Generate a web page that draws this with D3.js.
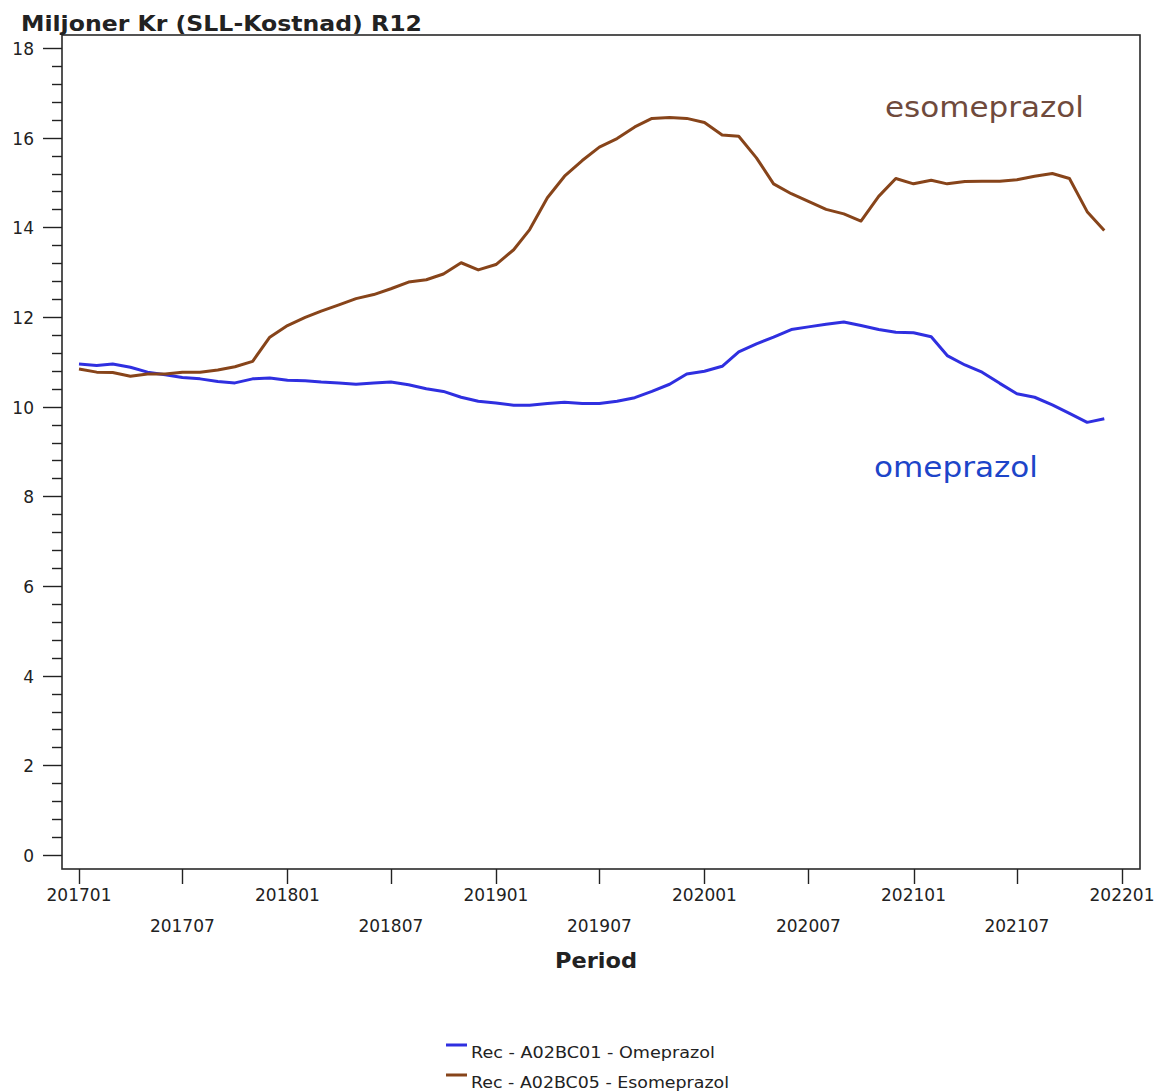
<!DOCTYPE html>
<html lang="sv">
<head>
    <meta charset="UTF-8">
    <script src="https://cdn.jsdelivr.net/npm/d3@7"></script>
    <title>Miljoner Kr (SLL-Kostnad) R12</title>
    <style>
        body {
            margin: 0;
            background: #ffffff;
        }
        text {
            font-family: "DejaVu Sans", Verdana, sans-serif;
            fill: #222;
        }
    </style>
</head>
<body>
    <div id="chart"></div>

    <script>
        // chart data, monthly from 201701 to 202112 (R12 cost, millions SEK)
        const startMonth = new Date(2017, 0, 1);
        const endMonth = new Date(2022, 0, 1);

        const omeprazol = [
            10.95, 10.92, 10.95, 10.88, 10.77, 10.71, 10.65, 10.62, 10.56, 10.53,
            10.62, 10.64, 10.59, 10.58, 10.55, 10.53, 10.50, 10.53, 10.55, 10.49,
            10.40, 10.34, 10.21, 10.12, 10.08, 10.03, 10.03, 10.07, 10.10, 10.07,
            10.07, 10.12, 10.20, 10.34, 10.50, 10.73, 10.79, 10.90, 11.22, 11.40,
            11.55, 11.72, 11.78, 11.84, 11.89, 11.81, 11.72, 11.66, 11.65, 11.56,
            11.14, 10.93, 10.77, 10.52, 10.29, 10.21, 10.04, 9.85, 9.65, 9.73
        ];

        const esomeprazol = [
            10.84, 10.77, 10.76, 10.68, 10.73, 10.73, 10.77, 10.77, 10.82, 10.89,
            11.01, 11.55, 11.81, 11.99, 12.13, 12.27, 12.41, 12.50, 12.63, 12.78,
            12.83, 12.96, 13.21, 13.05, 13.17, 13.50, 13.95, 14.66, 15.14, 15.49,
            15.79, 15.98, 16.24, 16.43, 16.45, 16.43, 16.34, 16.06, 16.03, 15.55,
            14.97, 14.75, 14.58, 14.40, 14.30, 14.14, 14.69, 15.09, 14.97, 15.05,
            14.97, 15.02, 15.03, 15.03, 15.06, 15.14, 15.20, 15.09, 14.35, 13.93
        ];

        const xTickLabels = ["201701", "201707", "201801", "201807", "201901", "201907",
            "202001", "202007", "202101", "202107", "202201"];
        const yTickValues = [0, 2, 4, 6, 8, 10, 12, 14, 16, 18];

        const seriesNames = ["Rec  - A02BC01 - Omeprazol", "Rec  - A02BC05 - Esomeprazol"];
        const seriesColors = ["#2f2fe0", "#87441a"];

        const width = 1157;
        const height = 1091;

        const svg = d3.select("#chart").append("svg")
            .attr("width", width)
            .attr("height", height);

        // frame edges (axes are offset from the data area)
        const frame = { left: 62, right: 1140, top: 35, bottom: 869 };

        const months = d3.timeMonth.range(startMonth, endMonth);

        const x = d3.scaleTime()
            .domain([startMonth, endMonth])
            .range([79, 1122]);

        const y = d3.scaleLinear()
            .domain([0, 18])
            .range([855, 48]);

        // frame
        svg.append("rect")
            .attr("x", frame.left)
            .attr("y", frame.top)
            .attr("width", frame.right - frame.left)
            .attr("height", frame.bottom - frame.top)
            .attr("fill", "none")
            .attr("stroke", "#2a2a2a")
            .attr("stroke-width", 1.6);

        // y axis ticks
        const minorTicks = d3.range(0, 18.001, 0.4).filter(v => Math.abs(v / 2 - Math.round(v / 2)) > 0.01);
        svg.append("g").selectAll("line")
            .data(minorTicks)
            .enter().append("line")
            .attr("x1", frame.left - 10)
            .attr("x2", frame.left)
            .attr("y1", d => Math.round(y(d)) + 0.5)
            .attr("y2", d => Math.round(y(d)) + 0.5)
            .attr("stroke", "#222")
            .attr("stroke-width", 1.4);

        const yTicks = svg.append("g");
        yTicks.selectAll("line")
            .data(yTickValues)
            .enter().append("line")
            .attr("x1", frame.left - 19)
            .attr("x2", frame.left)
            .attr("y1", d => Math.round(y(d)) + 0.5)
            .attr("y2", d => Math.round(y(d)) + 0.5)
            .attr("stroke", "#222")
            .attr("stroke-width", 1.4);
        yTicks.selectAll("text")
            .data(yTickValues)
            .enter().append("text")
            .attr("x", 34)
            .attr("y", d => y(d) + 7)
            .attr("text-anchor", "end")
            .style("font-size", "17px")
            .text(d => d);

        // x axis ticks, labels staggered on two rows
        const xTickDates = d3.timeMonth.every(6).range(startMonth, d3.timeMonth.offset(endMonth, 1));
        const xTicks = svg.append("g");
        xTicks.selectAll("line")
            .data(xTickDates)
            .enter().append("line")
            .attr("x1", d => Math.round(x(d)) + 0.5)
            .attr("x2", d => Math.round(x(d)) + 0.5)
            .attr("y1", frame.bottom)
            .attr("y2", frame.bottom + 15)
            .attr("stroke", "#222")
            .attr("stroke-width", 1.4);
        xTicks.selectAll("text")
            .data(xTickDates)
            .enter().append("text")
            .attr("x", d => x(d))
            .attr("y", (d, i) => i % 2 === 0 ? 901 : 932)
            .attr("text-anchor", "middle")
            .style("font-size", "17px")
            .text((d, i) => xTickLabels[i]);

        // axis titles
        svg.append("text")
            .attr("x", 21)
            .attr("y", 31)
            .attr("textLength", 401)
            .attr("lengthAdjust", "spacingAndGlyphs")
            .style("font-size", "21px")
            .style("font-weight", "bold")
            .text("Miljoner Kr (SLL-Kostnad) R12");

        svg.append("text")
            .attr("x", 596)
            .attr("y", 968)
            .attr("text-anchor", "middle")
            .attr("textLength", 82)
            .attr("lengthAdjust", "spacingAndGlyphs")
            .style("font-size", "22px")
            .style("font-weight", "bold")
            .text("Period");

        // lines
        const line = d3.line()
            .x((d, i) => x(months[i]))
            .y(d => y(d));

        [omeprazol, esomeprazol].forEach((series, k) => {
            svg.append("path")
                .datum(series)
                .attr("d", line)
                .attr("fill", "none")
                .attr("stroke", seriesColors[k])
                .attr("stroke-width", 3)
                .attr("stroke-linejoin", "round");
        });

        // annotations
        svg.append("text")
            .attr("x", 885)
            .attr("y", 117)
            .attr("textLength", 199)
            .attr("lengthAdjust", "spacingAndGlyphs")
            .style("font-size", "29px")
            .style("fill", "#6f4a3c")
            .text("esomeprazol");

        svg.append("text")
            .attr("x", 874)
            .attr("y", 477)
            .attr("textLength", 164)
            .attr("lengthAdjust", "spacingAndGlyphs")
            .style("font-size", "29px")
            .style("fill", "#1d45c9")
            .text("omeprazol");

        // legend
        const legend = svg.append("g");
        seriesNames.forEach((name, k) => {
            legend.append("line")
                .attr("x1", 446)
                .attr("x2", 467)
                .attr("y1", 1045 + k * 30)
                .attr("y2", 1045 + k * 30)
                .attr("stroke", seriesColors[k])
                .attr("stroke-width", 3);
            legend.append("text")
                .attr("x", 471)
                .attr("y", 1058 + k * 30)
                .attr("textLength", k === 0 ? 244 : 258)
                .attr("lengthAdjust", "spacingAndGlyphs")
                .style("font-size", "15px")
                .text(name);
        });
    </script>
</body>
</html>
